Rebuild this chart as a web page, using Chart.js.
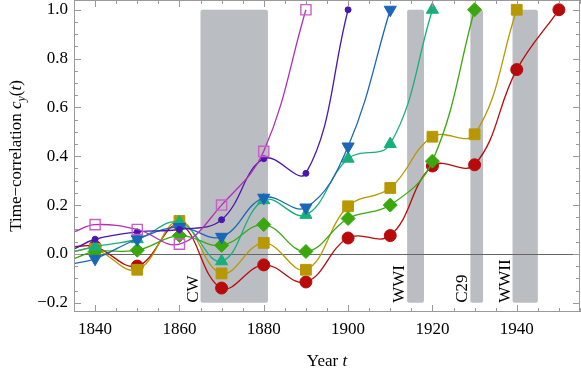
<!DOCTYPE html>
<html>
<head>
<meta charset="utf-8">
<script src="https://cdn.jsdelivr.net/npm/chart.js@4/dist/chart.umd.min.js"></script>
<style>
  html, body { margin: 0; padding: 0; background: #fff; }
  canvas { display: block; }
</style>
</head>
<body>
<canvas id="chart" width="581" height="370"></canvas>
<script>
// years: first entry is the left edge of the plot (1835), then one point per decade
const years = [1835, 1840, 1850, 1860, 1870, 1880, 1890, 1900, 1910, 1920, 1930, 1940, 1950];

// time-correlation values (first value = curve at left edge)
const magentaSeries = [0.09, 0.12, 0.10, 0.04, 0.20, 0.42, 1.00];
const purpleSeries  = [0.02, 0.06, 0.09, 0.10, 0.14, 0.39, 0.33, 1.00];
const blueSeries    = [-0.04, -0.02, 0.06, 0.11, 0.07, 0.23, 0.19, 0.44, 1.00];
const tealSeries    = [0.01, 0.03, 0.06, 0.13, -0.03, 0.22, 0.16, 0.39, 0.45, 1.00];
const greenSeries   = [-0.02, 0.01, 0.015, 0.075, 0.035, 0.12, 0.01, 0.145, 0.20, 0.38, 1.00];
const oliveSeries   = [0.01, 0.02, -0.065, 0.135, -0.08, 0.045, -0.065, 0.195, 0.27, 0.48, 0.49, 1.00];
const redSeries     = [0.03, 0.03, -0.05, 0.12, -0.14, -0.045, -0.115, 0.065, 0.075, 0.36, 0.365, 0.755, 1.00];

// historical crisis periods (shaded bands)
const bandNames = ['CW', 'WWI', 'C29', 'WWII'];
const bandStart = [1865, 1914, 1929, 1939];
const bandEnd   = [1881, 1918, 1932, 1945];
const bandLow = -0.2;
const bandHigh = 1.0;

// ticks
const xTickValues = [];
for (let v = 1835; v <= 1955; v += 5) xTickValues.push(v);
const xTickLabels = [1840, 1860, 1880, 1900, 1920, 1940];
const yTickValues = [];
for (let i = -4; i <= 20; i++) yTickValues.push(i / 20);
const yTickLabels = [-0.2, 0, 0.2, 0.4, 0.6, 0.8, 1.0];

const SERIF = "'Liberation Serif', 'DejaVu Serif', serif";

function toPoints(values) {
    return values.map((v, i) => ({ x: years[i], y: v }));
}

// hide the marker on the left-edge point
function pointSizes(values, r) {
    return values.map((v, i) => (i === 0 ? 0 : r));
}

function isLabel(list, v) {
    return list.some(l => Math.abs(l - v) < 1e-6);
}

function makeSet(label, values, color, style, radius, opts = {}) {
    return Object.assign({
        label: label,
        data: toPoints(values),
        borderColor: color,
        backgroundColor: color,
        pointBorderColor: color,
        pointBackgroundColor: color,
        borderWidth: 1.3,
        pointStyle: style,
        pointRadius: pointSizes(values, radius),
        pointBorderWidth: 1,
        tension: 0.4,
        fill: false,
        clip: 10
    }, opts);
}

const datasets = [
    makeSet('s1', magentaSeries, '#b52db5', 'rect', 7.2, {
        pointBackgroundColor: 'rgba(0,0,0,0)',
        pointBorderColor: '#c860c8',
        pointBorderWidth: 1.4
    }),
    makeSet('s2', purpleSeries, '#4a16b2', 'circle', 3),
    makeSet('s3', blueSeries, '#1a66b8', 'triangle', 7, { pointRotation: 180 }),
    makeSet('s4', tealSeries, '#17b07a', 'triangle', 7),
    makeSet('s5', greenSeries, '#3aa80c', 'rectRot', 7),
    makeSet('s6', oliveSeries, '#b89800', 'rect', 7.6),
    makeSet('s7', redSeries, '#b80a0a', 'circle', 6)
];

// shaded bands, their labels and the zero line
const bandsPlugin = {
    id: 'bands',
    beforeDatasetsDraw(chart) {
        const { ctx, chartArea, scales } = chart;
        const x = scales.x, y = scales.y;
        ctx.save();
        ctx.fillStyle = '#babdc1';
        bandStart.forEach((s, i) => {
            const x0 = x.getPixelForValue(s);
            const x1 = x.getPixelForValue(bandEnd[i]);
            const y0 = y.getPixelForValue(bandHigh);
            const y1 = y.getPixelForValue(bandLow);
            ctx.beginPath();
            ctx.roundRect(x0, y0, x1 - x0, y1 - y0, 2);
            ctx.fill();
        });

        // zero line
        const y0 = Math.round(y.getPixelForValue(0)) + 0.5;
        ctx.strokeStyle = '#666';
        ctx.lineWidth = 1;
        ctx.beginPath();
        ctx.moveTo(chartArea.left, y0);
        ctx.lineTo(chartArea.right, y0);
        ctx.stroke();

        // band labels, rotated, sitting left of each band
        ctx.fillStyle = '#000';
        ctx.font = '17px ' + SERIF;
        ctx.textAlign = 'left';
        ctx.textBaseline = 'alphabetic';
        bandNames.forEach((name, i) => {
            ctx.save();
            ctx.translate(x.getPixelForValue(bandStart[i]) - 3, y.getPixelForValue(bandLow));
            ctx.rotate(-Math.PI / 2);
            ctx.fillText(name, 0, 0);
            ctx.restore();
        });
        ctx.restore();
    }
};

// frame with inward ticks on all four sides, plus axis titles
const framePlugin = {
    id: 'frame',
    afterDraw(chart) {
        const { ctx, chartArea, scales } = chart;
        const { left, right, top, bottom } = chartArea;
        ctx.save();
        ctx.strokeStyle = '#999';
        ctx.lineWidth = 1;
        ctx.strokeRect(left + 0.5, top + 0.5, right - left - 1, bottom - top - 1);

        ctx.beginPath();
        scales.x.ticks.forEach(t => {
            const px = Math.round(scales.x.getPixelForValue(t.value)) + 0.5;
            const len = isLabel(xTickLabels, t.value) ? 7 : 4;
            ctx.moveTo(px, bottom);
            ctx.lineTo(px, bottom - len);
            ctx.moveTo(px, top);
            ctx.lineTo(px, top + len);
        });
        scales.y.ticks.forEach(t => {
            const py = Math.round(scales.y.getPixelForValue(t.value)) + 0.5;
            const len = isLabel(yTickLabels, t.value) ? 7 : 4;
            ctx.moveTo(left, py);
            ctx.lineTo(left + len, py);
            ctx.moveTo(right, py);
            ctx.lineTo(right - len, py);
        });
        ctx.stroke();

        // axis titles with italic symbols
        const normal = '17px ' + SERIF;
        const italic = 'italic 17px ' + SERIF;
        const sub = 'italic 12px ' + SERIF;

        function drawPieces(pieces, cx, baseline) {
            let width = 0;
            pieces.forEach(p => { ctx.font = p.font; width += ctx.measureText(p.text).width; });
            let xPos = cx - width / 2;
            ctx.textAlign = 'left';
            ctx.textBaseline = 'alphabetic';
            ctx.fillStyle = '#000';
            pieces.forEach(p => {
                ctx.font = p.font;
                ctx.fillText(p.text, xPos, baseline + (p.dy || 0));
                xPos += ctx.measureText(p.text).width;
            });
        }

        drawPieces([
            { text: 'Year ', font: normal },
            { text: 't', font: italic }
        ], (left + right) / 2, 366);

        ctx.save();
        ctx.translate(21, (top + bottom) / 2);
        ctx.rotate(-Math.PI / 2);
        drawPieces([
            { text: 'Time\u2212correlation ', font: normal },
            { text: 'c', font: italic },
            { text: 'y', font: sub, dy: 4 },
            { text: '(', font: normal },
            { text: 't', font: italic },
            { text: ')', font: normal }
        ], 0, 0);
        ctx.restore();
        ctx.restore();
    }
};

function noPadding(axis) {
    axis.paddingTop = 0;
    axis.paddingBottom = 0;
    axis.paddingLeft = 0;
    axis.paddingRight = 0;
}

const ctx = document.getElementById('chart').getContext('2d');
window.corrChart = new Chart(ctx, {
    type: 'line',
    data: { datasets: datasets },
    options: {
        responsive: false,
        animation: false,
        devicePixelRatio: 1,
        layout: { autoPadding: false, padding: { top: 0, right: 1, left: 0, bottom: 0 } },
        plugins: {
            legend: { display: false },
            tooltip: { enabled: false }
        },
        scales: {
            x: {
                type: 'linear',
                min: 1835,
                max: 1955,
                grid: { display: false, drawTicks: false },
                border: { display: false },
                afterBuildTicks: axis => { axis.ticks = xTickValues.map(v => ({ value: v })); },
                afterFit: axis => { axis.height = 58; noPadding(axis); },
                ticks: {
                    autoSkip: false,
                    maxRotation: 0,
                    padding: 7,
                    color: '#000',
                    font: { family: SERIF, size: 17 },
                    callback: v => (isLabel(xTickLabels, v) ? String(v) : '')
                }
            },
            y: {
                min: -0.238,
                max: 1.04,
                grid: { display: false, drawTicks: false },
                border: { display: false },
                afterBuildTicks: axis => { axis.ticks = yTickValues.map(v => ({ value: v })); },
                afterFit: axis => { axis.width = 74; noPadding(axis); },
                ticks: {
                    autoSkip: false,
                    padding: 6,
                    color: '#000',
                    font: { family: SERIF, size: 17 },
                    callback: v => {
                        if (!isLabel(yTickLabels, v)) return '';
                        const s = Math.abs(v).toFixed(1);
                        return v < -1e-9 ? '\u2212' + s : s;
                    }
                }
            }
        }
    },
    plugins: [bandsPlugin, framePlugin]
});
</script>
</body>
</html>
